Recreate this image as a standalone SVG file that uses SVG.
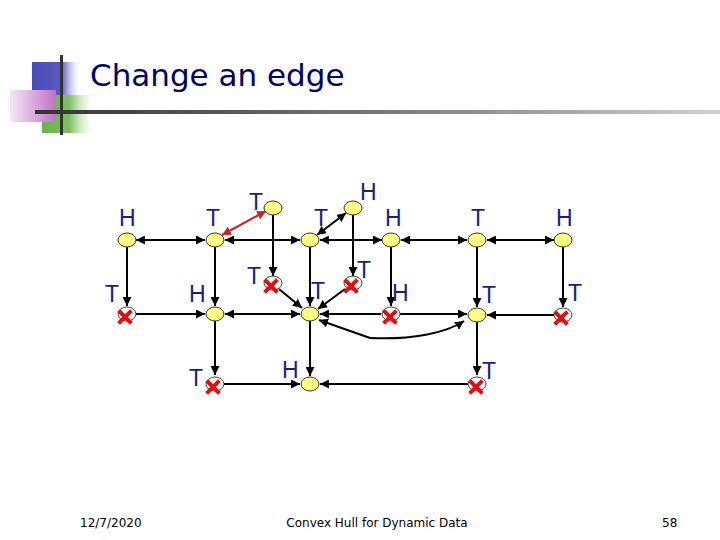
<svg xmlns="http://www.w3.org/2000/svg" width="720" height="540" viewBox="0 0 720 540">
<defs>
<linearGradient id="gBlue" x1="0" x2="1" y1="0" y2="0"><stop offset="0" stop-color="#4a4ab8"/><stop offset="0.6" stop-color="#5a5ac0"/><stop offset="1" stop-color="#ffffff" stop-opacity="0"/></linearGradient>
<linearGradient id="gGreen" x1="0" x2="1" y1="0" y2="0"><stop offset="0" stop-color="#6ab04c"/><stop offset="0.5" stop-color="#80c060"/><stop offset="1" stop-color="#ffffff" stop-opacity="0"/></linearGradient>
<linearGradient id="gPink" x1="1" x2="0" y1="0" y2="0"><stop offset="0" stop-color="#c070c8"/><stop offset="1" stop-color="#f4e8f4"/></linearGradient>
<linearGradient id="gLine" x1="0" x2="1" y1="0" y2="0"><stop offset="0" stop-color="#333333"/><stop offset="0.5" stop-color="#777777"/><stop offset="1" stop-color="#d0d0d0"/></linearGradient>
<marker id="ah" viewBox="0 0 10 10" refX="10" refY="5" markerWidth="9" markerHeight="9" markerUnits="userSpaceOnUse" orient="auto-start-reverse"><path d="M0,0 L10,5 L0,10 z" fill="#000"/></marker>
<marker id="ahr" viewBox="0 0 10 10" refX="10" refY="5" markerWidth="9" markerHeight="9" markerUnits="userSpaceOnUse" orient="auto-start-reverse"><path d="M0,0 L10,5 L0,10 z" fill="#d02020"/></marker>
<g id="xmark"><path d="M-5,-5 L5,5 M5,-5 L-5,5" stroke="#e01010" stroke-width="4" stroke-linecap="square"/></g>
</defs>
<style>
.lbl{font-family:"Liberation Sans",Arial,sans-serif;font-size:23px;fill:#1c1c88}
.nd{fill:#ffff80;stroke:#333;stroke-width:1}
.xn{fill:#fff;stroke:#444;stroke-width:1}
.e{stroke:#000;stroke-width:2;fill:none}
.ed{stroke:#000;stroke-width:2;fill:none;marker-end:url(#ah)}
.eb{stroke:#000;stroke-width:2;fill:none;marker-end:url(#ah);marker-start:url(#ah)}
.foot{font-family:"DejaVu Sans",Verdana,sans-serif;font-size:12px;fill:#000}
</style>
<g id="decor">
<rect x="32" y="62" width="50" height="33" fill="url(#gBlue)"/>
<rect x="42" y="95" width="55" height="38" fill="url(#gGreen)"/>
<rect x="10" y="90" width="46" height="32" fill="url(#gPink)"/>
<rect x="35" y="110" width="685" height="4" fill="url(#gLine)"/>
<rect x="60" y="55" width="3" height="80" fill="#333"/>
</g>
<text x="90" y="86" font-family="DejaVu Sans, Verdana, sans-serif" font-size="31" fill="#000066">Change an edge</text>
<g id="connectors">
<line class="eb" x1="136" y1="240" x2="205" y2="240"/>
<line class="eb" x1="225" y1="240" x2="300" y2="240"/>
<line class="eb" x1="320" y1="240" x2="382" y2="240"/>
<line class="eb" x1="401" y1="240" x2="467" y2="240"/>
<line class="eb" x1="487" y1="240" x2="554" y2="240"/>
<line stroke="#d02020" stroke-width="2" marker-start="url(#ahr)" marker-end="url(#ahr)" x1="222" y1="235" x2="266" y2="211"/>
<line class="eb" x1="346" y1="213" x2="317" y2="235"/>
<line class="ed" x1="127" y1="247" x2="127" y2="306"/>
<line class="ed" x1="215" y1="247" x2="215" y2="306"/>
<line class="ed" x1="273" y1="215" x2="273" y2="276"/>
<line class="ed" x1="310" y1="247" x2="310" y2="306"/>
<line class="ed" x1="353" y1="215" x2="353" y2="276"/>
<line class="ed" x1="391" y1="247" x2="391" y2="306"/>
<line class="ed" x1="477" y1="247" x2="477" y2="307"/>
<line class="ed" x1="563" y1="247" x2="563" y2="307"/>
<line class="ed" x1="136" y1="314" x2="205" y2="314"/>
<line class="eb" x1="225" y1="314" x2="300" y2="314"/>
<line class="ed" x1="279" y1="289" x2="302" y2="308"/>
<line class="ed" x1="345" y1="289" x2="318" y2="309"/>
<line class="ed" x1="381" y1="314" x2="320" y2="314"/>
<line class="ed" x1="400" y1="314" x2="467" y2="314"/>
<line class="ed" x1="554" y1="315" x2="487" y2="315"/>
<path class="e" d="M370,338 C412,340 446,333 464,321" marker-end="url(#ah)"/>
<path class="e" d="M370,338 L319,320" marker-end="url(#ah)"/>
<line class="ed" x1="215" y1="321" x2="215" y2="375"/>
<line class="ed" x1="310" y1="321" x2="310" y2="376"/>
<line class="ed" x1="477" y1="322" x2="477" y2="375"/>
<line class="ed" x1="223" y1="384" x2="300" y2="384"/>
<line class="ed" x1="468" y1="384" x2="320" y2="384"/>
</g>
<g id="n1"><ellipse class="nd" cx="127" cy="240" rx="9" ry="7"/><text class="lbl" x="119" y="226">H</text></g>
<g id="n2"><ellipse class="nd" cx="215" cy="240" rx="9" ry="7"/><text class="lbl" x="206" y="226">T</text></g>
<g id="n3"><ellipse class="nd" cx="273" cy="208" rx="9" ry="7"/><text class="lbl" x="249" y="210">T</text></g>
<g id="n4"><ellipse class="nd" cx="310" cy="240" rx="9" ry="7"/><text class="lbl" x="314" y="226">T</text></g>
<g id="n5"><ellipse class="nd" cx="353" cy="208" rx="9" ry="7"/><text class="lbl" x="360" y="200">H</text></g>
<g id="n6"><ellipse class="nd" cx="391" cy="240" rx="9" ry="7"/><text class="lbl" x="385" y="226">H</text></g>
<g id="n7"><ellipse class="nd" cx="477" cy="240" rx="9" ry="7"/><text class="lbl" x="471" y="226">T</text></g>
<g id="n8"><ellipse class="nd" cx="563" cy="240" rx="9" ry="7"/><text class="lbl" x="556" y="226">H</text></g>
<g id="n9"><ellipse class="xn" cx="127" cy="314" rx="9" ry="7"/><use href="#xmark" x="125" y="317"/><text class="lbl" x="105" y="302">T</text></g>
<g id="n10"><ellipse class="nd" cx="215" cy="314" rx="9" ry="7"/><text class="lbl" x="189" y="302">H</text></g>
<g id="n11"><ellipse class="xn" cx="273" cy="283" rx="9" ry="7"/><use href="#xmark" x="271" y="286"/><text class="lbl" x="247" y="284">T</text></g>
<g id="n12"><ellipse class="nd" cx="310" cy="314" rx="9" ry="7"/><text class="lbl" x="311" y="299">T</text></g>
<g id="n13"><ellipse class="xn" cx="353" cy="283" rx="9" ry="7"/><use href="#xmark" x="351" y="286"/><text class="lbl" x="357" y="278">T</text></g>
<g id="n14"><ellipse class="xn" cx="391" cy="314" rx="9" ry="7"/><use href="#xmark" x="390" y="317"/><text class="lbl" x="392" y="301">H</text></g>
<g id="n15"><ellipse class="nd" cx="477" cy="315" rx="9" ry="7"/><text class="lbl" x="482" y="303">T</text></g>
<g id="n16"><ellipse class="xn" cx="563" cy="315" rx="9" ry="7"/><use href="#xmark" x="561" y="318"/><text class="lbl" x="568" y="301">T</text></g>
<g id="n17"><ellipse class="xn" cx="215" cy="384" rx="9" ry="7"/><use href="#xmark" x="213" y="387"/><text class="lbl" x="189" y="386">T</text></g>
<g id="n18"><ellipse class="nd" cx="310" cy="384" rx="9" ry="7"/><text class="lbl" x="282" y="378">H</text></g>
<g id="n19"><ellipse class="xn" cx="477" cy="384" rx="9" ry="7"/><use href="#xmark" x="476" y="387"/><text class="lbl" x="482" y="379">T</text></g>
<text class="foot" x="80" y="527">12/7/2020</text>
<text class="foot" x="377" y="527" text-anchor="middle">Convex Hull for Dynamic Data</text>
<text class="foot" x="662" y="527">58</text>
</svg>
